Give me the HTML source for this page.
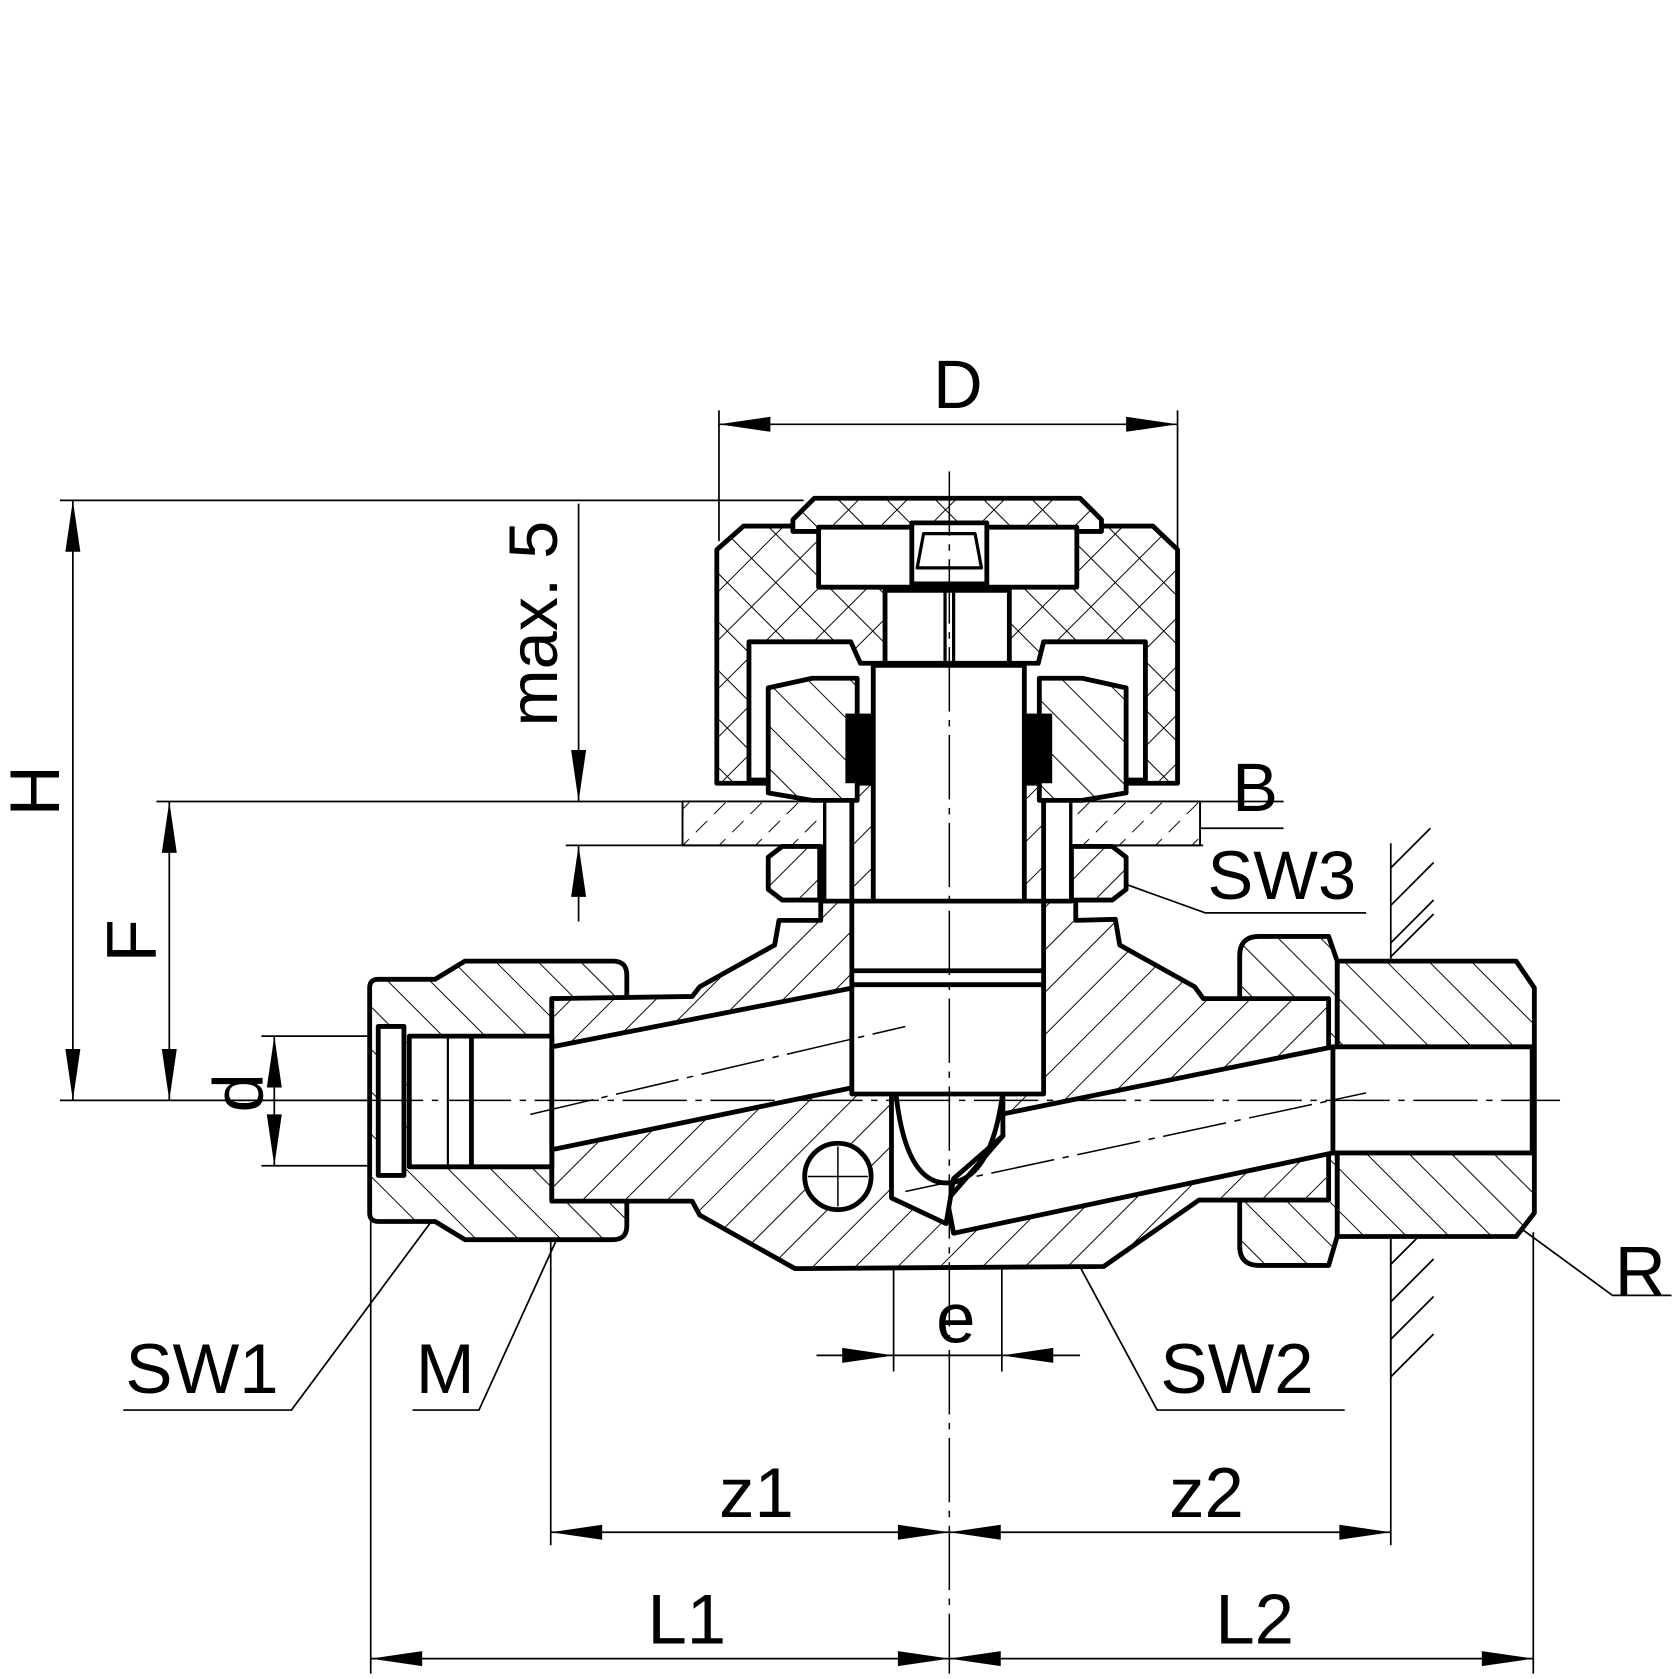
<!DOCTYPE html>
<html><head><meta charset="utf-8"><style>
html,body{margin:0;padding:0;background:#fff;}
svg{display:block;}
text{font-family:"Liberation Sans",Arial,sans-serif;fill:#000;}
</style></head><body>
<svg width="1679" height="1679" viewBox="0 0 1567 1567" xmlns="http://www.w3.org/2000/svg">
<defs>
<pattern id="hf" patternUnits="userSpaceOnUse" width="28" height="28" patternTransform="rotate(45)">
<rect width="28" height="28" fill="#fff"/><line x1="0" y1="0" x2="0" y2="28" stroke="#000" stroke-width="1.8"/></pattern>
<pattern id="hb" patternUnits="userSpaceOnUse" width="28" height="28" patternTransform="rotate(-45)">
<rect width="28" height="28" fill="#fff"/><line x1="0" y1="0" x2="0" y2="28" stroke="#000" stroke-width="1.8"/></pattern>
<pattern id="hx" patternUnits="userSpaceOnUse" width="32" height="32" patternTransform="rotate(45)">
<rect width="32" height="32" fill="#fff"/><line x1="0" y1="0" x2="0" y2="32" stroke="#000" stroke-width="1.8"/><line x1="0" y1="0" x2="32" y2="0" stroke="#000" stroke-width="1.8"/></pattern>
<pattern id="hp" patternUnits="userSpaceOnUse" width="24" height="24" patternTransform="rotate(45)">
<rect width="24" height="24" fill="#fff"/><line x1="0" y1="3" x2="0" y2="18" stroke="#000" stroke-width="1.8"/></pattern>
</defs>

<g stroke="#000" stroke-width="1.6" fill="none">
<line x1="671" y1="383" x2="671" y2="505"/><line x1="1099" y1="383" x2="1099" y2="512"/>
<line x1="671" y1="396" x2="1099" y2="396"/>
<line x1="56" y1="467" x2="750" y2="467"/><line x1="56" y1="1027" x2="355" y2="1027"/>
<line x1="68" y1="467" x2="68" y2="1027"/>
<line x1="146" y1="748" x2="1198" y2="748"/><line x1="158" y1="748" x2="158" y2="1027"/>
<line x1="540" y1="470" x2="540" y2="748"/><line x1="540" y1="789" x2="540" y2="860"/>
<line x1="528" y1="789" x2="1123" y2="789"/>
<line x1="690" y1="773" x2="1198" y2="773"/>
<line x1="244" y1="967" x2="372" y2="967"/><line x1="244" y1="1088" x2="372" y2="1088"/>
<line x1="256" y1="967" x2="256" y2="1088"/>
<line x1="346" y1="1140" x2="346" y2="1562"/><line x1="514" y1="1100" x2="514" y2="1442"/>
<line x1="1298" y1="1150" x2="1298" y2="1442"/><line x1="1431" y1="1150" x2="1431" y2="1562"/>
<line x1="834" y1="1100" x2="834" y2="1280"/><line x1="935" y1="1100" x2="935" y2="1280"/>
<line x1="762" y1="1265" x2="1008" y2="1265"/>
<line x1="514" y1="1430" x2="1298" y2="1430"/><line x1="346" y1="1548" x2="1431" y2="1548"/>
<polyline points="115,1316 272,1316 410,1130"/><polyline points="385,1316 447,1316 529,1136"/>
<polyline points="1255,1316 1080,1316 997,1162"/><polyline points="1560,1209 1505,1209 1375,1114"/>
<polyline points="1275,852 1125,852 1022,815"/>
<line x1="1298" y1="787" x2="1298" y2="899"/><line x1="1298" y1="1154" x2="1298" y2="1288"/>
<path d="M1298,810 L1335,773 M1298,845 L1338,805 M1298,880 L1338,840 M1298,893 L1338,853 M1298,1180 L1338,1140 M1298,1215 L1338,1175 M1298,1250 L1338,1210 M1298,1285 L1338,1245"/>
</g>
<g fill="#000">
<polygon points="671,396 719,389 719,403"/><polygon points="1099,396 1051,389 1051,403"/>
<polygon points="68,467 61,515 75,515"/><polygon points="68,1027 61,979 75,979"/>
<polygon points="158,748 151,796 165,796"/><polygon points="158,1027 151,979 165,979"/>
<polygon points="540,748 533,700 547,700"/><polygon points="540,789 533,837 547,837"/>
<polygon points="256,967 249,1015 263,1015"/><polygon points="256,1088 249,1040 263,1040"/>
<polygon points="834,1265 786,1258 786,1272"/><polygon points="935,1265 983,1258 983,1272"/>
<polygon points="514,1430 562,1423 562,1437"/><polygon points="886,1430 838,1423 838,1437"/>
<polygon points="886,1430 934,1423 934,1437"/><polygon points="1298,1430 1250,1423 1250,1437"/>
<polygon points="346,1548 394,1541 394,1555"/><polygon points="886,1548 838,1541 838,1555"/>
<polygon points="886,1548 934,1541 934,1555"/><polygon points="1431,1548 1383,1541 1383,1555"/>
<polygon points="762,773 717,766 717,780"/><polygon points="1008,773 1053,766 1053,780"/>
<circle cx="410" cy="1130" r="3"/><circle cx="529" cy="1136" r="3"/><circle cx="997" cy="1162" r="3"/><circle cx="1375" cy="1114" r="3"/><circle cx="1022" cy="815" r="3"/>
</g>

<g stroke="#000" stroke-width="4.5" stroke-linejoin="round">
<path d="M1248,897 L1415,897 L1432,922 L1432,1132 L1415,1154 L1248,1154 Z" fill="url(#hb)"/>
<path d="M1157,892 Q1157,874 1175,874 L1240,874 L1248,897 L1248,1154 L1240,1181 L1175,1181 Q1157,1181 1157,1163 Z" fill="url(#hb)"/>
<path d="M345,922 Q345,914 353,914 L406,914 L434,897 L572,897 Q585,897 585,910 L585,932 L515,932 L515,1121 L585,1121 L585,1144 Q585,1157 572,1157 L434,1157 L406,1140 L353,1140 Q345,1140 345,1132 Z" fill="url(#hb)"/>
<path d="M515,932 L646,930 L653,921 L723,882 L727,859 L766,859 L766,665 L1004,665 L1004,859 L1041,858 L1045,882 L1115,921 L1123,932 L1240,932 L1240,1120 L1119,1120 L1030,1182 L742,1184 L653,1134 L646,1121 L515,1121 Z" fill="url(#hf)"/>
<rect x="353" y="958" width="24" height="139" fill="#fff"/>
<rect x="382" y="967" width="133" height="122" fill="#fff"/>
<line x1="440" y1="967" x2="440" y2="1089"/><line x1="418" y1="967" x2="418" y2="1089" stroke-width="2"/>
<polygon points="515,977 801,921 801,1014 515,1073" fill="#fff"/>
<polygon points="934,1040 1244,977 1244,1076 890,1151 884,1120 936,1060" fill="#fff"/>
<rect x="1244" y="977" width="186" height="99" fill="#fff"/>
<path d="M832,1017 L832,1118 L883,1142 L890,1100 L936,1060 L936,1019 Z" fill="#fff"/>
<path d="M836,1019 Q845,1104 883,1104 Q925,1104 936,1019" fill="none"/>
<circle cx="782" cy="1098" r="31" fill="#fff"/>
<rect x="795" y="841" width="179" height="180" fill="#fff"/>
<line x1="795" y1="906" x2="974" y2="906"/><line x1="795" y1="919" x2="974" y2="919"/>
<rect x="769" y="663" width="26" height="178" fill="#fff"/><rect x="974" y="663" width="26" height="178" fill="#fff"/>
<rect x="637" y="748" width="132" height="41" fill="url(#hp)" stroke-width="1.8"/>
<rect x="1000" y="748" width="120" height="41" fill="url(#hp)" stroke-width="1.8"/>
<polygon points="717,800 730,790 765,790 765,840 730,840 717,830" fill="url(#hf)"/>
<polygon points="1051,800 1038,790 1000,790 1000,840 1038,840 1051,830" fill="url(#hf)"/>
<path d="M694,491 L669,513 L669,731 L1099,731 L1099,513 L1076,491 Z" fill="url(#hx)"/>
<path d="M699,728 L699,599 L794,599 L803,619 L969,619 L974,599 L1069,599 L1069,728 Z" fill="#fff"/>
<polygon points="760,465 1008,465 1028,485 1028,496 740,496 740,485" fill="url(#hx)"/>
<rect x="764" y="492" width="241" height="56" fill="#fff"/>
<path d="M851,488 L921,488 L921,545 L851,545 Z" fill="#fff"/>
<path d="M862,498 L910,498 L916,530 L856,530 Z" fill="#fff" stroke-width="3"/>
<rect x="826" y="551" width="116" height="68" fill="#fff"/>
<line x1="882" y1="551" x2="882" y2="619" stroke-width="3"/><line x1="890" y1="551" x2="890" y2="619" stroke-width="3"/>
<polygon points="717,642 758,633 800,633 800,747 758,747 717,740" fill="url(#hb)"/>
<polygon points="1051,642 1010,633 970,633 970,747 1010,747 1051,740" fill="url(#hb)"/>
<rect x="815" y="621" width="141" height="220" fill="#fff"/>
</g>
<rect x="789" y="666" width="24" height="65" fill="#000"/>
<rect x="958" y="666" width="24" height="65" fill="#000"/>

<g stroke="#000" stroke-width="1.4" fill="none">
<line x1="886" y1="440" x2="886" y2="1562" stroke-dasharray="60,8,6,8"/>
<line x1="335" y1="1027" x2="1456" y2="1027" stroke-dasharray="60,8,6,8"/>
<line x1="495" y1="1040" x2="845" y2="958" stroke-dasharray="60,8,6,8"/>
<line x1="845" y1="1112" x2="1275" y2="1020" stroke-dasharray="60,8,6,8"/>
<line x1="754" y1="1098" x2="810" y2="1098"/><line x1="782" y1="1070" x2="782" y2="1126"/>
</g>

<text x="894" y="381" font-size="64" text-anchor="middle">D</text>
<text x="1150" y="757" font-size="64">B</text>
<text x="1127" y="839" font-size="64">SW3</text>
<text x="117" y="1300" font-size="66">SW1</text>
<text x="388" y="1300" font-size="66">M</text>
<text x="1083" y="1300" font-size="66">SW2</text>
<text x="1507" y="1209" font-size="66">R</text>
<text x="892" y="1253" font-size="66" text-anchor="middle">e</text>
<text x="706" y="1416" font-size="66" text-anchor="middle">z1</text>
<text x="1126" y="1416" font-size="66" text-anchor="middle">z2</text>
<text x="641" y="1534" font-size="66" text-anchor="middle">L1</text>
<text x="1171" y="1534" font-size="66" text-anchor="middle">L2</text>
<text transform="translate(55,738) rotate(-90)" font-size="66" text-anchor="middle">H</text>
<text transform="translate(145,878) rotate(-90)" font-size="66" text-anchor="middle">F</text>
<text transform="translate(245,1020) rotate(-90)" font-size="66" text-anchor="middle">d</text>
<text transform="translate(520,582) rotate(-90)" font-size="64" text-anchor="middle">max. 5</text>
</svg>
</body></html>
